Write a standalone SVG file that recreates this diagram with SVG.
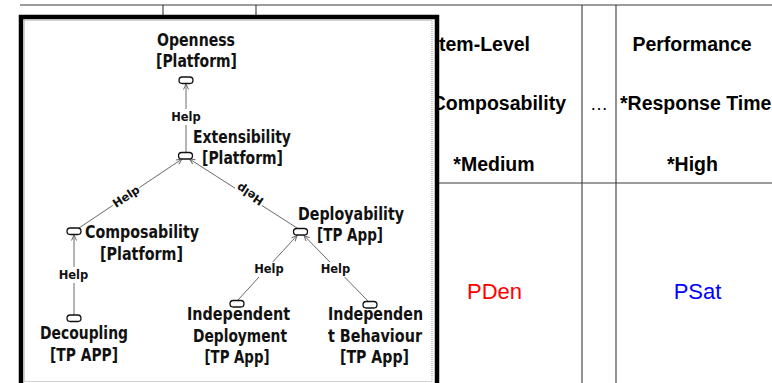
<svg xmlns="http://www.w3.org/2000/svg" width="772" height="383" viewBox="0 0 772 383">
  <style>
    .grid { stroke: #3a3a3a; stroke-width: 1.1; fill: none; }
    .th { font-family: "Liberation Sans", Arial, sans-serif; font-size: 19.5px; font-weight: bold; fill: #000; }
    .val { font-family: "Liberation Sans", Arial, sans-serif; font-size: 22px; text-anchor: middle; }
    .frame { fill: #fff; stroke: #000; stroke-width: 4.5; }
    .edge { fill: none; stroke: #9a9a9a; stroke-width: 0.9; stroke-dasharray: 1 1; }
    .goal { fill: #fff; stroke: #111; stroke-width: 1.3; }
    .lbl { font-family: "DejaVu Sans", Verdana, sans-serif; font-size: 17px; font-weight: bold; text-anchor: middle; fill: #111; }
    .link { stroke: #6a6a6a; stroke-width: 1; fill: none; marker-end: url(#open); }
    .help { font-family: "DejaVu Sans", Verdana, sans-serif; font-size: 11.5px; font-weight: bold; text-anchor: middle; fill: #111; }
    .hbg { fill: #fff; }
  </style>
  <defs>
    <marker id="open" markerUnits="userSpaceOnUse" markerWidth="8" markerHeight="8" refX="6" refY="3" orient="auto">
      <path d="M0.5,0.5 L6,3 L0.5,5.5" fill="none" stroke="#6a6a6a" stroke-width="1"/>
    </marker>
  </defs>

  <rect width="772" height="383" fill="#fff"/>

  <!-- quality table -->
  <g id="table">
    <line class="grid" x1="20" y1="5" x2="772" y2="5"/>
    <line class="grid" x1="163" y1="5" x2="163" y2="383"/>
    <line class="grid" x1="256" y1="5" x2="256" y2="383"/>
    <line class="grid" x1="582" y1="5" x2="582" y2="383"/>
    <line class="grid" x1="616" y1="5" x2="616" y2="383"/>
    <line class="grid" x1="20" y1="183" x2="772" y2="183"/>
    <text class="th" x="530" y="51" text-anchor="end">System-Level</text>
    <text class="th" x="566" y="110" text-anchor="end">Composability</text>
    <text class="th" x="494" y="171" text-anchor="middle">*Medium</text>
    <text x="599" y="110" text-anchor="middle" font-family="Liberation Sans, Arial, sans-serif" font-size="18" fill="#000">…</text>
    <text class="th" x="692" y="51" text-anchor="middle">Performance</text>
    <text class="th" x="620" y="110">*Response Time</text>
    <text class="th" x="692.5" y="171" text-anchor="middle">*High</text>
    <text class="val" x="494.5" y="299" fill="#ff0000">PDen</text>
    <text class="val" x="697.5" y="299" fill="#0000ff">PSat</text>
  </g>

  <!-- goal model panel -->
  <rect class="frame" x="21" y="17" width="416" height="380"/>
  <rect class="edge" x="24.5" y="20.5" width="407.5" height="361"/>

  <g id="connectors">
    <line class="link" x1="186" y1="152" x2="186" y2="84"/>
    <line class="link" x1="79" y1="228" x2="182" y2="159"/>
    <line class="link" x1="297" y1="228" x2="189.5" y2="159"/>
    <line class="link" x1="74" y1="315" x2="74" y2="235"/>
    <line class="link" x1="238" y1="300" x2="297" y2="235.5"/>
    <line class="link" x1="368" y1="301" x2="304" y2="235.5"/>

    <rect class="hbg" x="171" y="109" width="30" height="16"/>
    <text class="help" x="186" y="121">Help</text>
    <rect class="hbg" x="58.5" y="267" width="30" height="16"/>
    <text class="help" x="73.5" y="279">Help</text>
    <rect class="hbg" x="254" y="262" width="30" height="15"/>
    <text class="help" x="269" y="273">Help</text>
    <rect class="hbg" x="320.5" y="262" width="30" height="15"/>
    <text class="help" x="335.5" y="273">Help</text>
    <g transform="translate(126,196.5) rotate(-33.7)">
      <rect class="hbg" x="-16" y="-6" width="32" height="12"/>
      <text class="help" x="0" y="4">Help</text>
    </g>
    <g transform="translate(250,194.5) rotate(213.5)">
      <rect class="hbg" x="-16" y="-6" width="32" height="12"/>
      <text class="help" x="0" y="4">Help</text>
    </g>
  </g>

  <g id="openness">
    <rect class="goal" x="179" y="77" width="14" height="6.5" rx="3.2"/>
    <text class="lbl" x="196" y="45.5" textLength="78" lengthAdjust="spacingAndGlyphs">Openness</text>
    <text class="lbl" x="196.5" y="67" textLength="81" lengthAdjust="spacingAndGlyphs">[Platform]</text>
  </g>

  <g id="extensibility">
    <rect class="goal" x="178.5" y="152.5" width="14" height="6.5" rx="3.2"/>
    <text class="lbl" x="242" y="143" textLength="98" lengthAdjust="spacingAndGlyphs">Extensibility</text>
    <text class="lbl" x="242.5" y="164" textLength="81" lengthAdjust="spacingAndGlyphs">[Platform]</text>
  </g>

  <g id="composability">
    <rect class="goal" x="67" y="228" width="14" height="6.5" rx="3.2"/>
    <text class="lbl" x="142" y="238" textLength="114" lengthAdjust="spacingAndGlyphs">Composability</text>
    <text class="lbl" x="141.5" y="259.5" textLength="83" lengthAdjust="spacingAndGlyphs">[Platform]</text>
  </g>

  <g id="decoupling">
    <rect class="goal" x="67" y="315" width="14" height="6.5" rx="3.2"/>
    <text class="lbl" x="84" y="339" textLength="88" lengthAdjust="spacingAndGlyphs">Decoupling</text>
    <text class="lbl" x="84" y="360.5" textLength="68" lengthAdjust="spacingAndGlyphs">[TP APP]</text>
  </g>

  <g id="deployability">
    <rect class="goal" x="293.5" y="228.5" width="14" height="6.5" rx="3.2"/>
    <text class="lbl" x="351" y="220" textLength="106" lengthAdjust="spacingAndGlyphs">Deployability</text>
    <text class="lbl" x="350" y="240.5" textLength="66" lengthAdjust="spacingAndGlyphs">[TP App]</text>
  </g>

  <g id="independent-deployment">
    <rect class="goal" x="230" y="300.5" width="14" height="6.5" rx="3.2"/>
    <text class="lbl" x="238.5" y="320" textLength="103" lengthAdjust="spacingAndGlyphs">Independent</text>
    <text class="lbl" x="240" y="341.5" textLength="94" lengthAdjust="spacingAndGlyphs">Deployment</text>
    <text class="lbl" x="237" y="363" textLength="65" lengthAdjust="spacingAndGlyphs">[TP App]</text>
  </g>

  <g id="independent-behaviour">
    <rect class="goal" x="363" y="301.5" width="14" height="6.5" rx="3.2"/>
    <text class="lbl" x="375.5" y="320" textLength="95" lengthAdjust="spacingAndGlyphs">Independen</text>
    <text class="lbl" x="375" y="341.5" textLength="94" lengthAdjust="spacingAndGlyphs">t Behaviour</text>
    <text class="lbl" x="374.5" y="363" textLength="69" lengthAdjust="spacingAndGlyphs">[TP App]</text>
  </g>
</svg>
